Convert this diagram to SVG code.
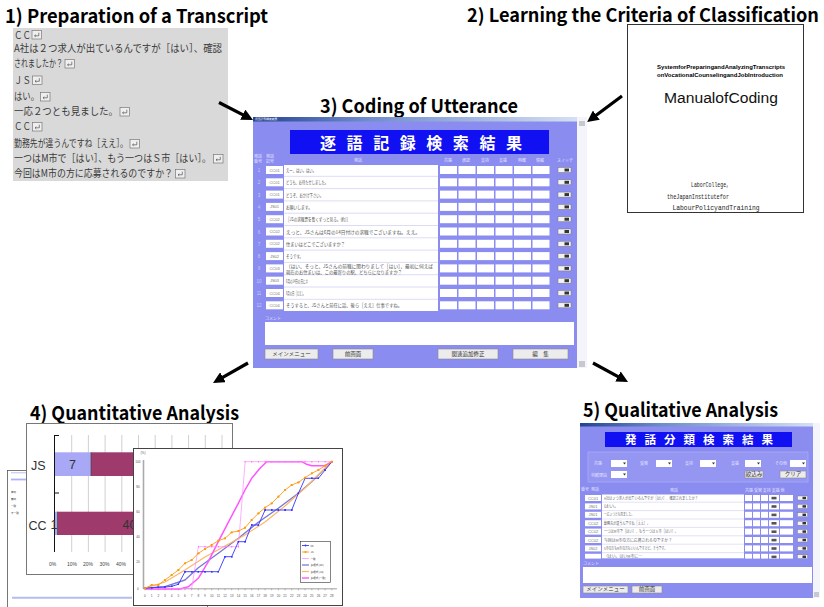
<svg xmlns="http://www.w3.org/2000/svg" width="824" height="607" viewBox="0 0 824 607">
<defs>
<style>
.ttl{font-family:"Noto Sans CJK JP","Noto Sans",sans-serif;font-weight:700;font-size:19px;fill:#000}
.ttl2{font-family:"Noto Sans CJK JP","Noto Sans",sans-serif;font-weight:700;font-size:16px;fill:#000}
.tr{font-family:"Noto Sans CJK JP",sans-serif;font-size:10px;fill:#3a3a3a}
.mini{font-family:"Noto Sans CJK JP",sans-serif;font-size:5px;fill:#555}
.qmini{font-family:"Noto Sans CJK JP",sans-serif;font-size:4px;fill:#666}
.code{font-family:"Liberation Sans",sans-serif;font-size:4px;fill:#777;text-anchor:middle}
.hdr{font-family:"Noto Sans CJK JP",sans-serif;font-size:4px;fill:#e4e4ff}
.num{font-family:"Liberation Sans",sans-serif;font-size:4.5px;fill:#c8c8fa;text-anchor:middle}
.ban{font-family:"Noto Sans CJK JP",sans-serif;font-weight:700;fill:#fff}
.wbox{fill:#fff}
.btn{fill:#ececec;stroke:#8a8a8a;stroke-width:.6}
.btxt{font-family:"Noto Sans CJK JP",sans-serif;font-size:5.5px;fill:#333;text-anchor:middle}
.arrow{stroke:#000;stroke-width:3.2;fill:none;marker-end:url(#head)}
.grid{stroke:#c4c4c4;stroke-width:.8}
.ax{font-family:"Liberation Sans",sans-serif;font-size:3.2px;fill:#555;text-anchor:middle}
.lg{font-family:"Noto Sans CJK JP",sans-serif;font-size:2.6px;fill:#333}
.win{fill:#8b8cf0}
.strip{fill:#f4f5fa}
</style>
<linearGradient id="tbar" x1="0" y1="0" x2="1" y2="0">
<stop offset="0" stop-color="#23438f"/><stop offset=".35" stop-color="#6f8ccc"/><stop offset="1" stop-color="#d4e0f2"/>
</linearGradient>
<marker id="head" viewBox="0 0 10 10" refX="6" refY="5" markerWidth="3.6" markerHeight="3.6" orient="auto"><path d="M0,0 L10,5 L0,10 z" fill="#000"/></marker>
<marker id="mO" viewBox="0 0 4 4" refX="2" refY="2" markerWidth="2.6" markerHeight="2.6" markerUnits="userSpaceOnUse"><circle cx="2" cy="2" r="1.8" fill="#ff9a10"/></marker>
<marker id="mB" viewBox="0 0 4 4" refX="2" refY="2" markerWidth="2.2" markerHeight="2.2" markerUnits="userSpaceOnUse"><rect x=".3" y=".3" width="3.4" height="3.4" fill="#3535ff"/></marker>
<marker id="mP" viewBox="0 0 4 4" refX="2" refY="2" markerWidth="1.6" markerHeight="1.6" markerUnits="userSpaceOnUse"><circle cx="2" cy="2" r="1.8" fill="#ff70ff"/></marker>
<!-- return mark used at the end of each transcript line -->
<g id="ret">
<rect x="0" y="0" width="9.5" height="8.5" fill="#efefef" stroke="#7a7a7a" stroke-width=".7"/>
<path d="M6.8,2.2 V5.3 H2.6 M3.8,4.2 L2.5,5.3 L3.8,6.4" fill="none" stroke="#555" stroke-width=".7"/>
</g>
<!-- one record row of the coding screen -->
<g id="cRow">
<rect x="266" y="0" width="17" height="8" class="wbox"/>
<rect x="440" y="0" width="17" height="8" class="wbox"/>
<rect x="458.5" y="0" width="17" height="8" class="wbox"/>
<rect x="477" y="0" width="17" height="8" class="wbox"/>
<rect x="495.5" y="0" width="17" height="8" class="wbox"/>
<rect x="514" y="0" width="17" height="8" class="wbox"/>
<rect x="532.5" y="0" width="17" height="8" class="wbox"/>
<rect x="558" y="1.5" width="13" height="5" fill="#f2f2f2" stroke="#777" stroke-width=".5"/>
<rect x="564.5" y="2.5" width="4.5" height="3" fill="#333"/>
</g>
<!-- one record row of the classification screen -->
<g id="qRow">
<rect x="585" y="0" width="16" height="6" class="wbox"/>
<rect x="745" y="0" width="7" height="6" class="wbox"/>
<rect x="753" y="0" width="7" height="6" class="wbox"/>
<rect x="761" y="0" width="7" height="6" class="wbox"/>
<rect x="769" y="0" width="10" height="6" class="wbox"/>
<rect x="780" y="0" width="13" height="6" class="wbox"/>
<rect x="771.5" y="1.8" width="5" height="2.6" fill="#555"/>
<rect x="797.5" y="1" width="10" height="4" fill="#f2f2f2" stroke="#777" stroke-width=".4"/>
<rect x="802.5" y="1.8" width="3.5" height="2.4" fill="#333"/>
</g>
<!-- drop-down box of the filter panel -->
<g id="dd">
<rect x="0" y="0" width="16" height="7" fill="#fff"/>
<path d="M12,2.6 h3 l-1.5,2 z" fill="#333"/>
</g>
</defs>

<rect width="824" height="607" fill="#fff"/>

<!-- 1) transcript -->
<g id="step1">
<text class="ttl" x="5" y="22.5" textLength="263" lengthAdjust="spacingAndGlyphs">1) Preparation of a Transcript</text>
<rect x="13" y="28" width="215" height="153" fill="#d9d9d9"/>
<g>
<text class="tr" x="14" y="38.5" textLength="17" lengthAdjust="spacingAndGlyphs">ＣＣ</text>
<text class="tr" x="14" y="52" textLength="208" lengthAdjust="spacingAndGlyphs">A社は２つ求人が出ているんですが［はい］、確認</text>
<text class="tr" x="14" y="67" textLength="49" lengthAdjust="spacingAndGlyphs">されましたか？</text>
<text class="tr" x="14" y="83.5" textLength="17" lengthAdjust="spacingAndGlyphs">ＪＳ</text>
<text class="tr" x="14" y="100" textLength="25" lengthAdjust="spacingAndGlyphs">はい。</text>
<text class="tr" x="14" y="115" textLength="104" lengthAdjust="spacingAndGlyphs">一応２つとも見ました。</text>
<text class="tr" x="14" y="130" textLength="17" lengthAdjust="spacingAndGlyphs">ＣＣ</text>
<text class="tr" x="14" y="147" textLength="114" lengthAdjust="spacingAndGlyphs">勤務先が違うんですね［ええ］。</text>
<text class="tr" x="14" y="162" textLength="197" lengthAdjust="spacingAndGlyphs">一つはM市で［はい］、もう一つはＳ市［はい］。</text>
<text class="tr" x="14" y="177" textLength="159" lengthAdjust="spacingAndGlyphs">今回はM市の方に応募されるのですか？</text>
</g>
<use href="#ret" x="32" y="30.5"/>
<use href="#ret" x="65" y="59.5"/>
<use href="#ret" x="32.5" y="76"/>
<use href="#ret" x="40.5" y="92.5"/>
<use href="#ret" x="120" y="107.5"/>
<use href="#ret" x="32.5" y="122.5"/>
<use href="#ret" x="130" y="139.5"/>
<use href="#ret" x="213.5" y="154.5"/>
<use href="#ret" x="175.5" y="169.5"/>
</g>

<!-- 2) coding manual -->
<g id="step2">
<text class="ttl2" transform="translate(467 21.5) scale(1 1.15)" x="0" y="0" textLength="352" lengthAdjust="spacingAndGlyphs">2) Learning the Criteria of Classification</text>
<rect x="627.5" y="24.5" width="176" height="188" fill="#fff" stroke="#333" stroke-width="1"/>
<text x="721" y="69" text-anchor="middle" font-family="Liberation Sans, sans-serif" font-weight="700" font-size="5.6" textLength="128" lengthAdjust="spacingAndGlyphs">SystemforPreparingandAnalyzingTranscripts</text>
<text x="720" y="77" text-anchor="middle" font-family="Liberation Sans, sans-serif" font-weight="700" font-size="5.6" textLength="126" lengthAdjust="spacingAndGlyphs">onVocationalCounselingandJobIntroduction</text>
<text x="721" y="103" text-anchor="middle" font-family="Liberation Sans, sans-serif" font-size="15.5" fill="#111" textLength="114" lengthAdjust="spacingAndGlyphs">ManualofCoding</text>
<text x="710" y="187" text-anchor="middle" font-family="Liberation Mono, monospace" font-size="8" fill="#222" textLength="38" lengthAdjust="spacingAndGlyphs">LaborCollege,</text>
<text x="698" y="199" text-anchor="middle" font-family="Liberation Mono, monospace" font-size="8" fill="#222" textLength="62" lengthAdjust="spacingAndGlyphs">theJapanInstitutefor</text>
<text x="716" y="210" text-anchor="middle" font-family="Liberation Mono, monospace" font-size="8" fill="#222" textLength="87" lengthAdjust="spacingAndGlyphs">LabourPolicyandTraining</text>
</g>

<!-- 3) coding screen -->
<g id="step3">
<text class="ttl" x="320" y="112.5" textLength="198" lengthAdjust="spacingAndGlyphs">3) Coding of Utterance</text>
<rect x="253" y="117" width="324" height="251" class="win"/>
<rect x="253" y="117" width="324" height="4.5" fill="url(#tbar)"/>
<text x="255" y="120.3" font-family="Noto Sans CJK JP, sans-serif" font-size="2.8" fill="#fff">逐語記録検索結果</text>
<rect x="577" y="117" width="10" height="251" class="strip"/>
<rect x="579" y="121" width="6" height="5" fill="#c8c8d0"/>
<rect x="579" y="361" width="6" height="6" fill="#c8c8d0"/>
<rect x="290" y="130" width="259" height="24" fill="#1010f2"/>
<text class="ban" x="320" y="149" font-size="16" textLength="202">逐語記録検索結果</text>
<!-- column headings -->
<text class="hdr" x="254" y="158">発話</text><text class="hdr" x="254" y="163">番号</text>
<text class="hdr" x="266" y="158">発話</text><text class="hdr" x="266" y="163">記号</text>
<text class="hdr" x="354" y="162">発話</text>
<text class="hdr" x="444" y="162">共感</text><text class="hdr" x="462" y="162">承認</text>
<text class="hdr" x="481" y="162">支持</text><text class="hdr" x="499" y="162">支援</text>
<text class="hdr" x="518" y="162">明確</text><text class="hdr" x="536" y="162">情報</text>
<text class="hdr" x="557" y="162">スイッチ</text>
<!-- utterance column -->
<rect x="284" y="165" width="154" height="146" fill="#fff"/>
<path d="M284,176.3H438M284,188.6H438M284,200.9H438M284,213.2H438M284,225.5H438M284,237.8H438M284,250.1H438M284,262.4H438M284,274.7H438M284,287H438M284,299.3H438" stroke="#c4c4ec" stroke-width=".6"/>
<use href="#cRow" y="166"/><use href="#cRow" y="178.3"/><use href="#cRow" y="190.6"/>
<use href="#cRow" y="202.9"/><use href="#cRow" y="215.2"/><use href="#cRow" y="227.5"/>
<use href="#cRow" y="239.8"/><use href="#cRow" y="252.1"/><use href="#cRow" y="264.4"/>
<use href="#cRow" y="276.7"/><use href="#cRow" y="289"/><use href="#cRow" y="301.3"/>
<g>
<text class="num" x="259" y="172">1</text><text class="num" x="259" y="184.3">2</text><text class="num" x="259" y="196.6">3</text>
<text class="num" x="259" y="208.9">4</text><text class="num" x="259" y="221.2">5</text><text class="num" x="259" y="233.5">6</text>
<text class="num" x="259" y="245.8">7</text><text class="num" x="259" y="258.1">8</text><text class="num" x="259" y="270.4">9</text>
<text class="num" x="259" y="282.7">10</text><text class="num" x="259" y="295">11</text><text class="num" x="259" y="307.3">12</text>
</g>
<g>
<text class="code" x="274.5" y="171.5">CC01</text><text class="code" x="274.5" y="183.8">CC01</text><text class="code" x="274.5" y="196.1">CC01</text>
<text class="code" x="274.5" y="208.4">JS01</text><text class="code" x="274.5" y="220.7">CC02</text><text class="code" x="274.5" y="233">CC02</text>
<text class="code" x="274.5" y="245.3">CC02</text><text class="code" x="274.5" y="257.6">JS02</text><text class="code" x="274.5" y="269.9">CC03</text>
<text class="code" x="274.5" y="282.2">JS03</text><text class="code" x="274.5" y="294.5">CC04</text><text class="code" x="274.5" y="306.8">CC04</text>
</g>
<g>
<text class="mini" x="286" y="172" textLength="30" lengthAdjust="spacingAndGlyphs">えー、はい。はい。</text>
<text class="mini" x="286" y="184.3" textLength="42" lengthAdjust="spacingAndGlyphs">どうも、お待たせしました。</text>
<text class="mini" x="286" y="196.6" textLength="37" lengthAdjust="spacingAndGlyphs">どうぞ、おかけ下さい。</text>
<text class="mini" x="286" y="208.9" textLength="26" lengthAdjust="spacingAndGlyphs">お願いします。</text>
<text class="mini" x="286" y="221.2" textLength="64" lengthAdjust="spacingAndGlyphs">［JSの求職票を暫くずっと見る。(約)］</text>
<text class="mini" x="286" y="233.5" textLength="134" lengthAdjust="spacingAndGlyphs">えっと、JSさんは6月の14日付けの求職でございますね。ええ。</text>
<text class="mini" x="286" y="245.8" textLength="59" lengthAdjust="spacingAndGlyphs">住まいはどこでございますか？</text>
<text class="mini" x="286" y="258.1" textLength="17" lengthAdjust="spacingAndGlyphs">そうです。</text>
<text class="mini" x="286" y="268" font-size="3.9" textLength="147" lengthAdjust="spacingAndGlyphs">（はい、そっと、JSさんの前職に関わりまして［はい］、最初に伺えば</text>
<text class="mini" x="286" y="273.8" font-size="3.9" textLength="116" lengthAdjust="spacingAndGlyphs">現在のお住まいは、この最寄りの駅、どちらになりますか？</text>
<text class="mini" x="286" y="282.7" textLength="22" lengthAdjust="spacingAndGlyphs">6月の14日の日に＃</text>
<text class="mini" x="286" y="295" textLength="19" lengthAdjust="spacingAndGlyphs">6月の日［ええ］。</text>
<text class="mini" x="286" y="307.3" textLength="116" lengthAdjust="spacingAndGlyphs">そうすると、JSさんと前任に話、後ら［ええ］仕事ですね。</text>
</g>
<text class="hdr" x="265" y="319.5">コメント</text>
<rect x="265" y="322" width="309" height="23" fill="#fff"/>
<rect x="265" y="349" width="53" height="10" class="btn"/><text class="btxt" x="291.5" y="356">メインメニュー</text>
<rect x="333" y="349" width="40" height="10" class="btn"/><text class="btxt" x="353" y="356">前画面</text>
<rect x="438" y="349" width="60" height="10" class="btn"/><text class="btxt" x="468" y="356">関連追加修正</text>
<rect x="513" y="349" width="55" height="10" class="btn"/><text class="btxt" x="540.5" y="356">編　集</text>
</g>

<!-- 4) quantitative charts -->
<g id="step4">
<text class="ttl" x="30" y="419.5" textLength="209" lengthAdjust="spacingAndGlyphs">4) Quantitative Analysis</text>
<!-- back sheet -->
<rect x="7.5" y="470.5" width="200" height="150" fill="#fff" stroke="#555" stroke-width=".8"/>
<path d="M11,472.8H26" stroke="#b8c0f0" stroke-width="1"/>
<path d="M11,479.5H26" stroke="#aab4f4" stroke-width="1.8"/>
<text class="lg" x="11" y="492.5" font-size="3.4">有効</text>
<text class="lg" x="11" y="499.5" font-size="3.4">無効</text>
<text class="lg" x="11" y="506.5" font-size="3.4">一致</text>
<text class="lg" x="11" y="513.5" font-size="3.4">不一致</text>
<path d="M12,597.8H132" stroke="#b4bcf2" stroke-width="2"/>
<!-- stacked bar chart -->
<rect x="26.5" y="423.5" width="206" height="151" fill="#fff" stroke="#777" stroke-width="1"/>
<path class="grid" d="M71.7,435V552M88.4,435V552M105.1,435V552M121.8,435V552M138.5,435V552M155.2,435V552M171.9,435V552M188.6,435V552M205.3,435V552M222,435V552"/>
<rect x="54.5" y="452.3" width="36.5" height="23.7" fill="#a8a8f6"/>
<rect x="91" y="452.3" width="60" height="23.7" fill="#9e3b6c"/>
<path d="M91,452.3V476" stroke="#444" stroke-width=".7"/>
<rect x="54.5" y="511.7" width="3" height="23.3" fill="#a8a8f6"/>
<rect x="57.5" y="511.7" width="95" height="23.3" fill="#9e3b6c"/>
<path d="M57.5,511.7V535" stroke="#444" stroke-width=".7"/>
<path d="M54.5,435V552M54.5,435.5H59M54.5,493H59" stroke="#111" stroke-width="1"/>
<g font-family="Liberation Sans, sans-serif" font-size="12.5" fill="#333">
<text x="72.5" y="469" text-anchor="middle">7</text>
<text x="54" y="528.5" text-anchor="middle">1</text>
<text x="122.5" y="528.5">40</text>
<text x="31" y="470">JS</text>
<text x="28.5" y="530">CC</text>
</g>
<g font-family="Liberation Sans, sans-serif" font-size="5" fill="#444" text-anchor="middle">
<text x="52.5" y="566">0%</text><text x="72" y="566">10%</text><text x="88" y="566">20%</text><text x="104.5" y="566">30%</text><text x="121" y="566">40%</text>
</g>
<!-- cumulative line chart -->
<rect x="133.5" y="448.5" width="209" height="157" fill="#fff" stroke="#444" stroke-width="1"/>
<text class="ax" x="143" y="453.5">(%)</text>
<path d="M143.5,460V589" stroke="#aaa" stroke-width="1.6"/>
<path d="M143.5,588.8H337" stroke="#888" stroke-width=".8"/>
<path d="M145,588.8v1.5M151.7,588.8v1.5M158.3,588.8v1.5M165,588.8v1.5M171.7,588.8v1.5M178.4,588.8v1.5M185,588.8v1.5M191.7,588.8v1.5M198.4,588.8v1.5M205,588.8v1.5M211.7,588.8v1.5M218.4,588.8v1.5M225,588.8v1.5M231.7,588.8v1.5M238.4,588.8v1.5M245.1,588.8v1.5M251.7,588.8v1.5M258.4,588.8v1.5M265.1,588.8v1.5M271.7,588.8v1.5M278.4,588.8v1.5M285.1,588.8v1.5M291.7,588.8v1.5M298.4,588.8v1.5M305.1,588.8v1.5M311.8,588.8v1.5M318.4,588.8v1.5M325.1,588.8v1.5M331.8,588.8v1.5" stroke="#888" stroke-width=".6"/>
<g class="ax">
<text x="138" y="462.5">100</text><text x="138" y="487.5">80</text><text x="138" y="512.5">60</text>
<text x="138" y="538">40</text><text x="138" y="563">20</text><text x="138" y="589.5">0</text>
</g>
<text class="ax" y="596.5"><tspan x="145">0</tspan><tspan x="151.7">1</tspan><tspan x="158.3">2</tspan><tspan x="165">3</tspan><tspan x="171.7">4</tspan><tspan x="178.4">5</tspan><tspan x="185">6</tspan><tspan x="191.7">7</tspan><tspan x="198.4">8</tspan><tspan x="205">9</tspan><tspan x="211.7">10</tspan><tspan x="218.4">11</tspan><tspan x="225">12</tspan><tspan x="231.7">13</tspan><tspan x="238.4">14</tspan><tspan x="245.1">15</tspan><tspan x="251.7">16</tspan><tspan x="258.4">17</tspan><tspan x="265.1">18</tspan><tspan x="271.7">19</tspan><tspan x="278.4">20</tspan><tspan x="285.1">21</tspan><tspan x="291.7">22</tspan><tspan x="298.4">23</tspan><tspan x="305.1">24</tspan><tspan x="311.8">25</tspan><tspan x="318.4">26</tspan><tspan x="325.1">27</tspan><tspan x="331.8">28</tspan></text>
<!-- trend curves -->
<polyline points="145,588.3 165,586.7 185,580 198.3,567.7 218.3,553.3 238.3,538.3 258.3,522.3 278.3,508.3 298.3,493.3 311.7,481.7 331.7,461.7" fill="none" stroke="#7a7ad6" stroke-width="1.4" stroke-linejoin="round"/>
<polyline points="145,588.3 165,582 185,570 205,557 225,546 245,535 265,522 285,506 305,488 331.7,461.7" fill="none" stroke="#ffb566" stroke-width="1.2" stroke-linejoin="round"/>
<polyline points="145,589 180,589 188.3,586.7 198.3,578.3 208.3,561.7 218.3,541.7 228.3,522.3 238.3,503.3 245,490 251.7,478.3 260,468.3 266.7,461.7 301.7,461.7 306.7,464.3 311.7,465.7 325,465.7 331.7,461.7" fill="none" stroke="#ff55ff" stroke-width="1.5" stroke-linejoin="round"/>
<!-- data series -->
<polyline points="145,588.3 151.7,588.3 158.3,588.3 165,588.3 171.7,588.3 178.4,588.3 185,588.3 191.7,588.3 198.4,546.7 205,546.7 211.7,546.7 218.4,546.7 225,546.7 231.7,546.7 238.4,546.7 245.1,461.7 251.7,461.7 258.4,461.7 265.1,461.7 271.7,461.7 278.4,461.7 285.1,461.7 291.7,461.7 298.4,461.7 305.1,461.7 311.8,461.7 318.4,461.7 325.1,461.7 331.8,461.7" fill="none" stroke="#ff8cff" stroke-width=".7" marker-start="url(#mP)" marker-mid="url(#mP)" marker-end="url(#mP)"/>
<polyline points="145,588.3 151.7,587.7 158.3,587.3 165,587 171.7,586.3 178.4,584.3 185,571.7 191.7,571.7 198.4,571.7 205,571.7 211.7,571.7 218.4,571.7 225,556.7 231.7,556.7 238.4,541.7 245.1,541.7 251.7,525 258.4,525 265.1,510 271.7,510 278.4,510 285.1,510 291.7,510 298.4,493.3 305.1,478.3 311.8,478.3 318.4,478.3 325.1,470 331.8,461.7" fill="none" stroke="#3535ff" stroke-width=".9" marker-start="url(#mB)" marker-mid="url(#mB)" marker-end="url(#mB)"/>
<polyline points="145,588.3 151.7,585 158.3,585 165,580 171.7,575 178.4,570 185,563.3 191.7,560 198.4,553.3 205,549 211.7,545 218.4,540.7 225,538.3 231.7,532.3 238.4,531 245.1,527.7 251.7,520 258.4,513.3 265.1,507.7 271.7,503.3 278.4,496.7 285.1,490 291.7,485 298.4,482.3 305.1,477.7 311.8,473.3 318.4,470 325.1,465.7 331.8,461.7" fill="none" stroke="#ff9a10" stroke-width=".9" marker-start="url(#mO)" marker-mid="url(#mO)" marker-end="url(#mO)"/>
<!-- legend -->
<rect x="300.5" y="541.5" width="30" height="41" fill="#fff" stroke="#333" stroke-width=".6"/>
<path d="M302,545.5H309" stroke="#3535ff" stroke-width=".9"/>
<circle cx="305.5" cy="545.5" r=".9" fill="#3535ff"/>
<path d="M302,552H309" stroke="#ff9a10" stroke-width=".9"/>
<circle cx="305.5" cy="552" r="1.1" fill="#ff9a10"/>
<path d="M302,558.5H309" stroke="#ff8cff" stroke-width=".7"/>
<path d="M302,565H309" stroke="#7a7ad6" stroke-width="1.3"/>
<path d="M302,571.5H309" stroke="#ffb566" stroke-width="1.2"/>
<path d="M302,578H309" stroke="#ff55ff" stroke-width="1.4"/>
<text class="lg" x="310.5" y="546.5">CC</text>
<text class="lg" x="310.5" y="553">JS</text>
<text class="lg" x="310.5" y="559.5">一致</text>
<text class="lg" x="310.5" y="566" font-size="2.3">多項式 (CC)</text>
<text class="lg" x="310.5" y="572.5" font-size="2.3">多項式 (JS)</text>
<text class="lg" x="310.5" y="579" font-size="2.3">多項式 (一致)</text>
</g>

<!-- 5) classification screen -->
<g id="step5">
<text class="ttl" x="583" y="417" textLength="195" lengthAdjust="spacingAndGlyphs">5) Qualitative Analysis</text>
<rect x="580" y="423" width="233" height="175" class="win"/>
<rect x="580" y="423" width="233" height="3.5" fill="url(#tbar)"/>
<rect x="813" y="423" width="7" height="175" class="strip"/>
<rect x="814" y="592" width="5" height="5" fill="#c8c8d0"/>
<rect x="605" y="432" width="187" height="15" fill="#1010f2"/>
<text class="ban" x="625" y="444" font-size="11.5" textLength="148">発話分類検索結果</text>
<!-- filter panel -->
<rect x="588" y="452" width="220" height="30" fill="#9596f2" stroke="#a9aaf6" stroke-width=".8"/>
<text class="hdr" x="594" y="465">共感</text><use href="#dd" x="611" y="460"/>
<text class="hdr" x="640" y="465">受容</text><use href="#dd" x="656" y="460"/>
<text class="hdr" x="685" y="465">支持</text><use href="#dd" x="700" y="460"/>
<text class="hdr" x="731" y="465">支援</text><use href="#dd" x="745" y="460"/>
<text class="hdr" x="775" y="465">その他</text><use href="#dd" x="790" y="460"/>
<text class="hdr" x="591" y="476.5">判断理由</text><use href="#dd" x="611" y="471"/>
<rect x="745" y="471" width="18" height="7" class="btn"/><text class="btxt" x="754" y="476" font-size="4">絞込み</text>
<rect x="780" y="471" width="26" height="7" class="btn"/><text class="btxt" x="793" y="476" font-size="4">クリア</text>
<!-- headings and rows -->
<text class="hdr" x="581" y="491">番号</text><text class="hdr" x="591" y="491">発話</text>
<text class="hdr" x="670" y="492">発話</text>
<text class="hdr" x="745" y="492" font-size="3">共感 受容 支持 支援 他</text>
<rect x="602" y="494.5" width="142" height="64" fill="#fff"/>
<path d="M602,502.2H744M602,510.6H744M602,519H744M602,527.4H744M602,535.8H744M602,544.2H744M602,552.6H744" stroke="#c4c4ec" stroke-width=".5"/>
<use href="#qRow" y="495"/><use href="#qRow" y="503.4"/><use href="#qRow" y="511.8"/>
<use href="#qRow" y="520.2"/><use href="#qRow" y="528.6"/><use href="#qRow" y="537"/>
<use href="#qRow" y="545.4"/><use href="#qRow" y="553.8"/>
<g>
<text class="code" x="593" y="499.5" font-size="3.3">CC01</text><text class="code" x="593" y="507.9" font-size="3.3">JS01</text>
<text class="code" x="593" y="516.3" font-size="3.3">JS01</text><text class="code" x="593" y="524.7" font-size="3.3">CC02</text>
<text class="code" x="593" y="533.1" font-size="3.3">CC02</text><text class="code" x="593" y="541.5" font-size="3.3">CC02</text>
<text class="code" x="593" y="549.9" font-size="3.3">JS02</text>
</g>
<g>
<text class="qmini" x="604" y="499.5" textLength="94" lengthAdjust="spacingAndGlyphs">A社は２つ求人が出ているんですが［はい］、確認されましたか？</text>
<text class="qmini" x="604" y="507.9" textLength="15" lengthAdjust="spacingAndGlyphs">はい。</text>
<text class="qmini" x="604" y="516.3" textLength="30" lengthAdjust="spacingAndGlyphs">一応２つとも見ました。</text>
<text class="qmini" x="604" y="524.7" textLength="46" lengthAdjust="spacingAndGlyphs">勤務先が違うんですね［ええ］。</text>
<text class="qmini" x="604" y="533.1" textLength="74" lengthAdjust="spacingAndGlyphs">一つはM市で［はい］、もう一つはＳ市［はい］。</text>
<text class="qmini" x="604" y="541.5" textLength="68" lengthAdjust="spacingAndGlyphs">今回はM市の方に応募されるのですか？</text>
<text class="qmini" x="604" y="549.9" textLength="63" lengthAdjust="spacingAndGlyphs">S市の方もM市の方もいいんですけど。そうです。</text>
<text class="qmini" x="604" y="558.3" textLength="38" lengthAdjust="spacingAndGlyphs">（はい。はいM市に…</text>
</g>
<rect x="581" y="558.6" width="231" height="8" class="win"/>
<text class="hdr" x="583" y="565" font-size="3.5">コメント</text>
<rect x="583" y="567" width="229" height="16" fill="#fff"/>
<rect x="583" y="586" width="45" height="7" class="btn"/><text class="btxt" x="605.5" y="591.2" font-size="4.2">メインメニュー</text>
<rect x="632" y="586" width="30" height="7" class="btn"/><text class="btxt" x="647" y="591.2" font-size="4.2">前画面</text>
</g>

<!-- workflow arrows -->
<g id="connectors">
<line class="arrow" x1="219" y1="102.5" x2="248.9" y2="117.9"/>
<line class="arrow" x1="622" y1="96" x2="590.8" y2="119.3"/>
<line class="arrow" x1="248" y1="363" x2="217" y2="380.7"/>
<line class="arrow" x1="593" y1="363" x2="624" y2="379.8"/>
</g>
</svg>
